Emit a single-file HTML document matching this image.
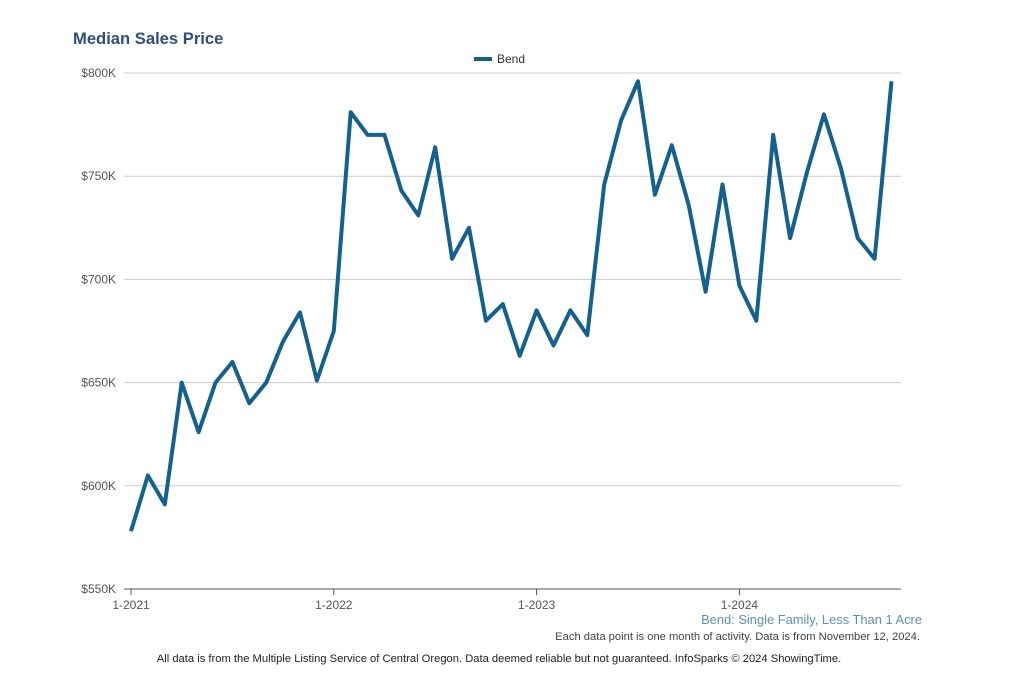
<!DOCTYPE html>
<html><head><meta charset="utf-8"><style>
body{margin:0;background:#fff;font-family:"Liberation Sans",sans-serif}
svg{display:block}
</style></head><body>
<svg width="1024" height="699">
<text x="73" y="44" font-size="16.6" font-weight="bold" fill="#2f4f7a">Median Sales Price</text>
<g>
<line x1="474" y1="59" x2="492" y2="59" stroke="#14608f" stroke-width="4"/>
<text x="497" y="63" font-size="12" fill="#333">Bend</text>
</g>
<g id="grid"></g><g id="axes"></g><g id="series"></g>
<text x="922" y="624" font-size="12.9" fill="#5b8fbf" text-anchor="end">Bend: Single Family, Less Than 1 Acre</text>
<text x="920" y="640" font-size="11.2" fill="#444" text-anchor="end">Each data point is one month of activity. Data is from November 12, 2024.</text>
<text x="499" y="662" font-size="11.2" fill="#222" text-anchor="middle">All data is from the Multiple Listing Service of Central Oregon. Data deemed reliable but not guaranteed. InfoSparks © 2024 ShowingTime.</text>
</svg>
<script>
const values=[578,605,591,650,626,650,660,640,650,670,684,651,675,781,770,770,743,731,764,710,725,680,688,663,685,668,685,673,746,777,796,741,765,736,694,746,697,680,770,720,752,780,754,720,710,796];
const yTicks=[550,600,650,700,750,800];
const xLabels=["1-2021","1-2022","1-2023","1-2024"];
const x0=131,dx=16.9,yb=589,yt=73,xR=901;
const ns="http://www.w3.org/2000/svg";
function X(i){return x0+i*dx}
function Y(v){return yb-(v-550)/250*(yb-yt)}
function mk(t,a,p){const e=document.createElementNS(ns,t);for(const k in a)e.setAttribute(k,a[k]);p.appendChild(e);return e}
const g=document.getElementById('grid'),ax=document.getElementById('axes'),s=document.getElementById('series');
yTicks.forEach(v=>{
const l=mk('line',{x1:124,x2:xR,y1:Y(v),y2:Y(v),stroke:v==550?'#555':'#ccc','stroke-width':1},g);


const t=mk('text',{x:116,y:Y(v)+4,'font-size':12,fill:'#555','text-anchor':'end'},ax);
t.textContent='$'+v+'K';


});
xLabels.forEach((lab,i)=>{
const x=X(i*12);
mk('line',{x1:x,x2:x,y1:yb,y2:yb+6,stroke:'#555'},ax);
const t=mk('text',{x:x,y:yb+20,'font-size':12,fill:'#555','text-anchor':'middle'},ax);
t.textContent=lab;


});
const p=mk('polyline',{points:values.map((v,i)=>X(i)+','+Y(v)).join(' '),fill:'none',stroke:'#14608f','stroke-width':4,'stroke-linejoin':'round'},s);


</script>
</body></html>
